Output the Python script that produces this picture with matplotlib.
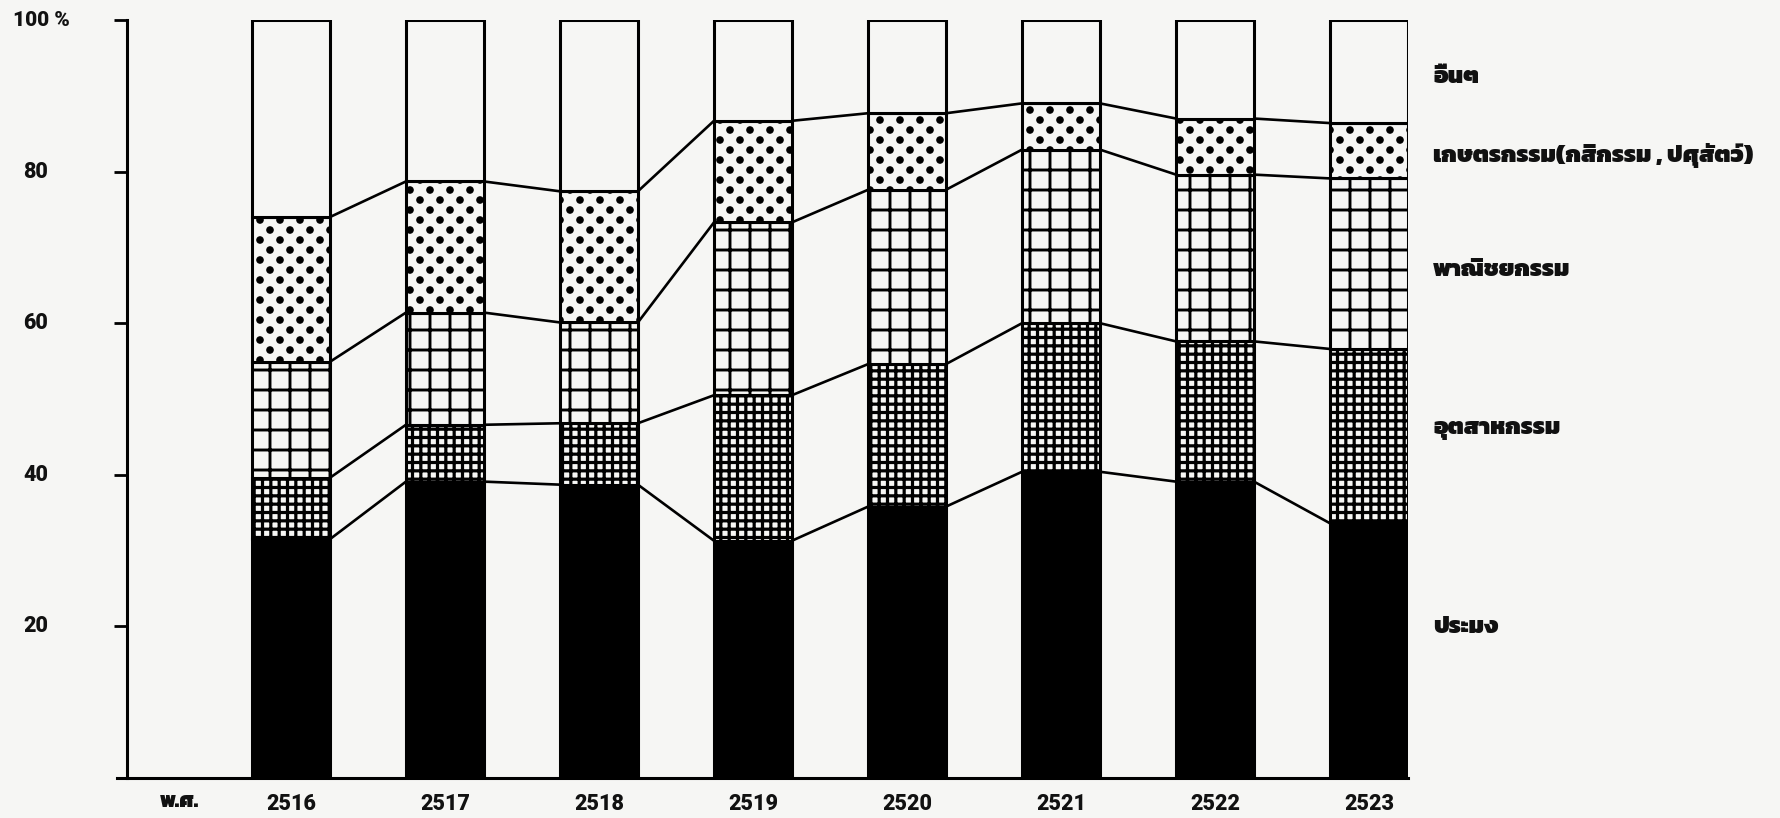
import matplotlib
matplotlib.use('Agg')
import matplotlib.pyplot as plt
import matplotlib.transforms as mtransforms
import matplotlib.hatch as mhatch
from matplotlib.path import Path
from matplotlib import font_manager
from matplotlib.ft2font import FT2Font
import numpy as np

# ---------------- data ----------------
years = ['2516', '2517', '2518', '2519', '2520', '2521', '2522', '2523']
fishery = [31.5, 39.1, 38.7, 31.3, 35.8, 40.4, 39.1, 33.6]        # ประมง
industry = [8.1, 7.5, 8.1, 19.2, 18.8, 19.6, 18.5, 23.0]          # อุตสาหกรรม
commerce = [15.3, 14.8, 13.3, 22.8, 23.0, 22.9, 22.0, 22.5]       # พาณิชยกรรม
agriculture = [19.1, 17.3, 17.3, 13.4, 10.1, 6.1, 7.4, 7.3]       # เกษตรกรรม
others = [26.0, 21.3, 22.6, 13.3, 12.3, 11.0, 13.0, 13.6]         # อื่นๆ
series_labels = ['ประมง', 'อุตสาหกรรม', 'พาณิชยกรรม',
                 'เกษตรกรรม(กสิกรรม , ปศุสัตว์)', 'อื่นๆ']
ytick_values = [20, 40, 60, 80, 100]
ytick_labels = ['20', '40', '60', '80', '100 %']
era_label = 'พ.ศ.'


# ---------------- hatch patterns (print-style screens) ----------------
class GridH(mhatch.HorizontalHatch):
    # '+' -> fine grid (density lines / inch), '-' -> coarse grid (5 lines / inch)
    def __init__(self, hatch, density):
        self.num_lines = int(hatch.count('+') * density + hatch.count('-') * 5)
        self.num_vertices = self.num_lines * 2


class GridV(mhatch.VerticalHatch):
    def __init__(self, hatch, density):
        self.num_lines = int(hatch.count('+') * density + hatch.count('|') * 5)
        self.num_vertices = self.num_lines * 2


class LatticeDots(mhatch.HatchPatternBase):
    """Filled dots on a 45-degree lattice (like a halftone screen)."""
    filled = True
    radius = 0.031

    def __init__(self, hatch, density):
        n = hatch.count('.')
        circle = Path.unit_circle()
        self.shape_vertices = circle.vertices
        self.shape_codes = circle.codes
        if n == 0:
            self.num_vertices = 0
            return
        self.ncol = 5 * n
        self.nrow = 2 * self.ncol
        count = sum((self.ncol + 1) if i % 2 == 0 else self.ncol
                    for i in range(self.nrow + 1))
        self.num_vertices = count * len(self.shape_vertices)

    def set_vertices_and_codes(self, vertices, codes):
        step = 1.0 / self.ncol
        verts = self.shape_vertices * self.radius
        vparts, cparts = [], []
        for i in range(self.nrow + 1):
            if i % 2 == 0:
                cols = np.linspace(0, 1, self.ncol + 1)
            else:
                cols = np.linspace(step / 2, 1 - step / 2, self.ncol)
            rp = i * step / 2
            for cp in cols:
                vparts.append(verts + [cp, rp])
                cparts.append(self.shape_codes)
        np.concatenate(vparts, out=vertices)
        np.concatenate(cparts, out=codes)


_new_types = []
for t in mhatch._hatch_types:
    if t is mhatch.HorizontalHatch:
        _new_types.append(GridH)
    elif t is mhatch.VerticalHatch:
        _new_types.append(GridV)
    elif t is mhatch.SmallFilledCircles:
        _new_types.append(LatticeDots)
    else:
        _new_types.append(t)
mhatch._hatch_types[:] = _new_types


# ---------------- fonts ----------------
def find_thai_font():
    found = []
    seen = set()
    for fe in font_manager.fontManager.ttflist:
        if fe.fname in seen:
            continue
        seen.add(fe.fname)
        try:
            cmap = FT2Font(fe.fname).get_charmap()
        except Exception:
            continue
        if 0x0E01 in cmap and 0x0E2A in cmap:
            found.append(fe)
    if not found:
        for path in font_manager.findSystemFonts():
            if path in seen:
                continue
            try:
                cmap = FT2Font(path).get_charmap()
            except Exception:
                continue
            if 0x0E01 in cmap and 0x0E2A in cmap:
                return font_manager.FontProperties(fname=path)
        return None
    found.sort(key=lambda f: -(f.weight if isinstance(f.weight, int) else 400))
    return font_manager.FontProperties(fname=found[0].fname)


thai_fp = find_thai_font()

paper = '#f6f6f4'
plt.rcParams['hatch.linewidth'] = 2.0
plt.rcParams['font.family'] = ['Roboto', 'DejaVu Sans']

W, H, DPI = 1780, 818, 100
fig = plt.figure(figsize=(W / DPI, H / DPI), dpi=DPI, facecolor=paper)

ax_left_px, ax_right_px = 117, 1408
ax_bottom_px, ax_top_px = 778, 20
ax = fig.add_axes([ax_left_px / W, 1 - ax_bottom_px / H,
                   (ax_right_px - ax_left_px) / W, (ax_bottom_px - ax_top_px) / H])
ax.set_facecolor(paper)

x = np.arange(len(years))
width = 0.506
layers = [fishery, industry, commerce, agriculture, others]
fills = [('black', None, 2.0), (paper, '++', 2.3), (paper, '-|', 2.1),
         (paper, '.', 1.0), (paper, None, 2.0)]

bottom = np.zeros(len(years))
tops = []
for vals, (fc, hatch, hlw) in zip(layers, fills):
    vals = np.array(vals, dtype=float)
    with plt.rc_context({'hatch.linewidth': hlw}):
        bars = ax.bar(x, vals, width, bottom=bottom, facecolor=fc, edgecolor='black',
                      hatch=hatch, linewidth=2.2, zorder=3)
        for b in bars:
            if hasattr(b, 'set_hatch_linewidth'):
                b.set_hatch_linewidth(hlw)
    bottom = bottom + vals
    tops.append(bottom.copy())

# connecting lines between bars at each boundary
for lvl in tops[:-1]:
    for i in range(len(years) - 1):
        ax.plot([x[i] + width / 2, x[i + 1] - width / 2], [lvl[i], lvl[i + 1]],
                color='black', lw=1.9, solid_capstyle='butt', zorder=2)

ax.set_xlim(-1.129, x[-1] + width / 2)
ax.set_ylim(0, 100)

for s in ['top', 'right']:
    ax.spines[s].set_visible(False)
ax.spines['left'].set_position(('axes', 10 / (ax_right_px - ax_left_px)))
ax.spines['left'].set_linewidth(2.2)
ax.spines['bottom'].set_linewidth(2.2)
ax.spines['left'].set_bounds(0, 100)

ax.set_yticks(ytick_values)
ax.set_yticklabels([])
ax.tick_params(axis='y', direction='out', length=9.5, width=2.0, color='black')
ax.set_xticks(x)
ax.set_xticklabels(years, fontsize=15.5, fontweight='heavy', color='#111111')
ax.tick_params(axis='x', length=0, pad=11)

# y tick labels placed manually (hand-lettered look)
tr = mtransforms.blended_transform_factory(fig.transFigure, ax.transData)
for v, lab in zip(ytick_values, ytick_labels):
    if lab.endswith('%'):
        ax.text(13 / W, v, lab, transform=tr, ha='left', va='center',
                fontsize=15, fontweight='heavy', color='#111111')
    else:
        ax.text(36 / W, v, lab, transform=tr, ha='center', va='center',
                fontsize=15.5, fontweight='heavy', color='#111111')


def thai_props(size):
    if thai_fp is None:
        return dict(fontsize=size, fontweight='bold')
    fp = thai_fp.copy()
    fp.set_size(size)
    fp.set_weight('bold')
    return dict(fontproperties=fp)


# era label
fig.text(179 / W, 1 - 802 / H, era_label, ha='center', va='center',
         color='#111111', **thai_props(15))

# right-side category labels
label_y_px = [627, 429, 270, 155, 77]
for lab, py in zip(series_labels, label_y_px):
    fig.text(1433 / W, 1 - py / H, lab, ha='left', va='center',
             color='#111111', **thai_props(17))

fig.savefig('out.png', dpi=DPI, facecolor=paper)
